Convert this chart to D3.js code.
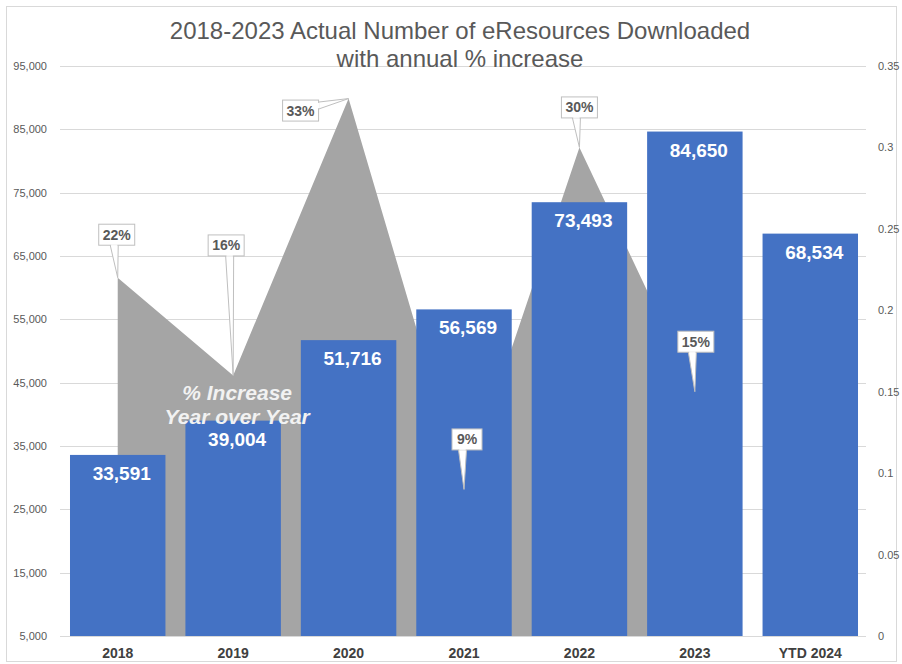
<!DOCTYPE html>
<html>
<head>
<meta charset="utf-8">
<script src="https://cdn.jsdelivr.net/npm/d3@7"></script>
<style>
  html, body { margin: 0; padding: 0; background: #ffffff; }
  svg { display: block; }
  text { font-family: "Liberation Sans", Arial, sans-serif; }
</style>
</head>
<body>
<svg id="chart" width="902" height="664"></svg>
<script>
// ---- data ----
const categories = ["2018", "2019", "2020", "2021", "2022", "2023", "YTD 2024"];
const downloads = [33591, 39004, 51716, 56569, 73493, 84650, 68534];
const pctCategories = ["2018", "2019", "2020", "2021", "2022", "2023"];
const pctIncrease = [0.22, 0.16, 0.33, 0.09, 0.30, 0.15];
const leftTicks = [5000, 15000, 25000, 35000, 45000, 55000, 65000, 75000, 85000, 95000];
const rightTicks = [0, 0.05, 0.1, 0.15, 0.2, 0.25, 0.3, 0.35];
const titleLines = ["2018-2023 Actual Number of eResources Downloaded", "with annual % increase"];
const areaLabelLines = ["% Increase", "Year over Year"];

// ---- layout (callout box offsets from their data point) ----
const calloutOffsets = [
  { dx: -1, dy: -43 },
  { dx: -7, dy: -130 },
  { dx: -48, dy: 12 },
  { dx: 3, dy: -50 },
  { dx: 0, dy: -40 },
  { dx: 1, dy: -50 }
];

const svg = d3.select("#chart");
const plot = { left: 60, right: 868, top: 66, bottom: 636 };

// chart border
svg.append("rect")
  .attr("x", 6.5).attr("y", 6.5).attr("width", 890).attr("height", 655)
  .attr("fill", "#ffffff").attr("stroke", "#d9d9d9").attr("stroke-width", 1);

const x = d3.scaleBand().domain(categories)
  .range([plot.left, plot.right]).paddingInner(0.173).paddingOuter(0.0866);
const y = d3.scaleLinear().domain([5000, 95000]).range([plot.bottom, plot.top]);
const y2 = d3.scaleLinear().domain([0, 0.35]).range([plot.bottom, plot.top]);

// gridlines
svg.append("g").selectAll("line").data(leftTicks).join("line")
  .attr("x1", plot.left).attr("x2", plot.right - 2)
  .attr("y1", d => Math.round(y(d)) + 0.5).attr("y2", d => Math.round(y(d)) + 0.5)
  .attr("stroke", "#d9d9d9").attr("stroke-width", 1);

// left axis
const leftAxis = svg.append("g").attr("transform", `translate(${plot.left - 12},0)`)
  .call(d3.axisLeft(y).tickValues(leftTicks).tickSize(0).tickPadding(1).tickFormat(d3.format(",")));
leftAxis.select(".domain").remove();
leftAxis.selectAll("text").attr("font-size", "11px").attr("fill", "#595959")
  .style("font-family", "'Liberation Sans', Arial, sans-serif");

// right axis
const rightAxis = svg.append("g").attr("transform", `translate(${plot.right + 8},0)`)
  .call(d3.axisRight(y2).tickValues(rightTicks).tickSize(0).tickPadding(2).tickFormat(d => d3.format("")(+d.toFixed(2))));
rightAxis.select(".domain").remove();
rightAxis.selectAll("text").attr("font-size", "11px").attr("fill", "#595959")
  .style("font-family", "'Liberation Sans', Arial, sans-serif");

// area (% increase)
const cx = c => x(c) + x.bandwidth() / 2;
const pctData = pctCategories.map((c, i) => ({ c, v: pctIncrease[i] }));
const area = d3.area().x(d => cx(d.c)).y0(plot.bottom).y1(d => y2(d.v));
svg.append("path").datum(pctData).attr("d", area).attr("fill", "#a5a5a5");

// bars
const barData = categories.map((c, i) => ({ c, v: downloads[i] }));
svg.append("g").selectAll("rect").data(barData).join("rect")
  .attr("x", d => x(d.c)).attr("width", x.bandwidth())
  .attr("y", d => y(d.v)).attr("height", d => plot.bottom - y(d.v))
  .attr("fill", "#4472c4");

// bar labels
svg.append("g").selectAll("text").data(barData).join("text")
  .attr("x", d => cx(d.c) + 4).attr("y", d => y(d.v) + 25)
  .attr("text-anchor", "middle").attr("font-size", "19px").attr("font-weight", "bold")
  .attr("fill", "#ffffff").text(d => d3.format(",")(d.v));

// area label
const alx = (cx("2019") + 4);
svg.append("g").selectAll("text").data(areaLabelLines).join("text")
  .attr("x", alx).attr("y", (d, i) => 400 + i * 24)
  .attr("text-anchor", "middle").attr("font-size", "21px").attr("font-weight", "bold")
  .attr("font-style", "italic").attr("fill", "#f2f2f2").text(d => d);

// baseline
svg.append("line").attr("x1", plot.left).attr("x2", plot.right - 2)
  .attr("y1", plot.bottom + 0.5).attr("y2", plot.bottom + 0.5)
  .attr("stroke", "#d9d9d9");

// x-axis labels
const xAxis = svg.append("g").attr("transform", `translate(0,${plot.bottom})`)
  .call(d3.axisBottom(x).tickSize(0).tickPadding(12));
xAxis.select(".domain").remove();
xAxis.selectAll("text").attr("font-size", "14px").attr("font-weight", "bold")
  .attr("fill", "#404040").style("font-family", "'Liberation Sans', Arial, sans-serif");

// callouts
const cg = svg.append("g");
pctData.forEach((d, i) => {
  const px = cx(d.c), py = y2(d.v);
  const off = calloutOffsets[i];
  const label = Math.round(d.v * 100) + "%";
  const bw = label.length > 2 ? 36 : 30, bh = 21;
  const bx = px + off.dx - bw / 2, by = py + off.dy - bh / 2;
  const g = cg.append("g");
  let base;
  if (py > by + bh) {
    const mx = Math.max(bx + 6, Math.min(bx + bw - 6, (px + off.dx + px) / 2 + (off.dx < -3 ? 0 : -3)));
    base = [[mx - 4, by + bh], [mx + 4, by + bh]];
  } else if (py < by + bh && px > bx + bw) {
    base = [[bx + bw, by + 2], [bx + bw, by + 9]];
  } else {
    const mx = bx + bw / 2;
    base = [[mx - 4, by], [mx + 4, by]];
  }
  g.append("path")
    .attr("d", `M${base[0][0]},${base[0][1]}L${px},${py}L${base[1][0]},${base[1][1]}Z`)
    .attr("fill", "#ffffff").attr("stroke", "#bfbfbf").attr("stroke-width", 1);
  g.append("rect").attr("x", bx).attr("y", by).attr("width", bw).attr("height", bh)
    .attr("fill", "#ffffff").attr("stroke", "#bfbfbf").attr("stroke-width", 1);
  g.append("line")
    .attr("x1", base[0][0] + (base[0][0] === base[1][0] ? 0 : 0.8))
    .attr("y1", base[0][1] + (base[0][1] === base[1][1] ? 0 : 0.8))
    .attr("x2", base[1][0] - (base[0][0] === base[1][0] ? 0 : 0.8))
    .attr("y2", base[1][1] - (base[0][1] === base[1][1] ? 0 : 0.8))
    .attr("stroke", "#ffffff").attr("stroke-width", 1.4);
  g.append("text").attr("x", bx + bw / 2).attr("y", by + bh / 2 + 5)
    .attr("text-anchor", "middle").attr("font-size", "14px").attr("font-weight", "bold")
    .attr("fill", "#595959").text(label);
});

// title
svg.append("g").selectAll("text").data(titleLines).join("text")
  .attr("x", 460).attr("y", (d, i) => 39 + i * 28)
  .attr("text-anchor", "middle").attr("font-size", "24px").attr("fill", "#595959")
  .text(d => d);
</script>
</body>
</html>
